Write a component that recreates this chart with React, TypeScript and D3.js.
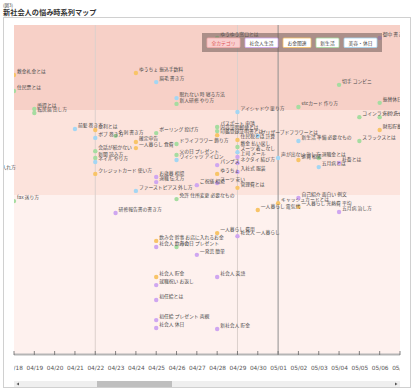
import React, { useRef, useEffect } from "react";
import * as d3 from "d3";

// [date, score, keyword]
type Pt = [string, number, string];

const shakaijin: Pt[] = [
  ["2018-04-23", 44.7, "研修報告書の書き方"],
  ["2018-04-27", 52.9, "ご祝儀 相場"],
  ["2018-04-28", 53.5, "スーツ 安い"],
  ["2018-04-28", 58.8, "パンプス"],
  ["2018-05-04", 59.4, "社畜とは"],
  ["2018-05-02", 49.1, "自己紹介 面白い 例文"],
  ["2018-05-04", 45.0, "五月病 治し方"],
  ["2018-04-29", 61.2, "上司 メール"],
  ["2018-04-29", 59.4, "ネクタイ 結び方"],
  ["2018-04-29", 56.8, "入社式 服装"],
  ["2018-04-25", 55.3, "お歳暮 相場"],
  ["2018-04-25", 53.8, "退職 伝え方"],
  ["2018-04-27", 32.4, "一発芸 簡単"],
  ["2018-04-25", 34.7, "社会人 飲み会"],
  ["2018-04-29", 37.9, "社会人 一人暮らし"],
  ["2018-04-28", 25.9, "社会人 英語"],
  ["2018-04-25", 23.5, "就職祝い お返し"],
  ["2018-04-25", 19.1, "初任給とは"],
  ["2018-04-25", 13.2, "初任給 プレゼント 両親"],
  ["2018-04-25", 10.9, "社会人 休日"],
  ["2018-04-28", 10.6, "新社会人 貯金"],
  ["2018-05-06", 96.2, "御中 書き方"],
];

const okane: Pt[] = [
  ["2018-04-18", 85.3, "敷金礼金とは"],
  ["2018-04-24", 85.9, "ゆうちょ 振込手数料"],
  ["2018-04-22", 69.1, "金利とは"],
  ["2018-04-24", 65.6, "確定申告"],
  ["2018-04-24", 63.8, "一人暮らし 食費"],
  ["2018-04-22", 56.2, "クレジットカード 使い方"],
  ["2018-04-28", 67.6, "印鑑登録証明書とは"],
  ["2018-04-29", 66.2, "住民税とは 計算"],
  ["2018-04-28", 56.2, "ゆうちょ"],
  ["2018-04-29", 52.1, "管理費とは"],
  ["2018-05-06", 69.1, "財形貯蓄"],
  ["2018-05-02", 60.3, "家賃 相場"],
  ["2018-05-01", 47.6, "キャッシュカードとは"],
  ["2018-04-30", 45.6, "一人暮らし 電気代"],
  ["2018-05-02", 46.5, "一人暮らし 光熱費 平均"],
  ["2018-04-25", 36.5, "飲み会 幹事 お店に入れるお金"],
  ["2018-04-28", 38.8, "一人暮らし 費用"],
  ["2018-04-25", 25.9, "社会人 貯金"],
];

const shinseikatsu: Pt[] = [
  ["2018-04-18", 80.6, "住民票とは"],
  ["2018-04-19", 75.3, "所得とは"],
  ["2018-04-19", 74.1, "転居届 出し方"],
  ["2018-04-23", 67.4, "名刺 書き方"],
  ["2018-04-22", 62.9, "会話が続かない"],
  ["2018-04-25", 68.2, "ボーリング 投げ方"],
  ["2018-04-26", 65.0, "ドライフラワー 飾り方"],
  ["2018-04-26", 76.8, "新人研修 やり方"],
  ["2018-04-28", 70.0, "パスポート 申請"],
  ["2018-04-28", 68.8, "内容証明郵便とは"],
  ["2018-04-29", 64.1, "敷金 払い戻し"],
  ["2018-05-04", 82.4, "切手 コンビニ"],
  ["2018-05-02", 75.9, "etcカード 作り方"],
  ["2018-05-06", 77.1, "振替休日"],
  ["2018-05-05", 72.9, "コインランドリー"],
  ["2018-05-06", 72.9, "布団 洗い方"],
  ["2018-05-05", 65.9, "スラックスとは"],
  ["2018-05-03", 60.9, "退職金とは"],
  ["2018-04-26", 48.8, "免許 住所変更 必要なもの"],
  ["2018-04-18", 48.2, "fax 送り方"],
  ["2018-04-26", 34.7, "母の日 プレゼント"],
  ["2018-04-28", 96.2, "ゆうゆう窓口とは"],
  ["2018-04-26", 61.8, "父の日 プレゼント"],
  ["2018-04-22", 60.9, "新聞 読み方"],
];

const biyou: Pt[] = [
  ["2018-04-25", 83.2, "眉毛 書き方"],
  ["2018-04-26", 78.5, "眠れない 時 寝る方法"],
  ["2018-04-29", 74.4, "アイシャドウ 塗り方"],
  ["2018-04-21", 69.4, "前髪 巻き方"],
  ["2018-04-22", 66.8, "ボブ 巻き方"],
  ["2018-04-24", 51.2, "ファーストピアス 外し方"],
  ["2018-04-22", 59.7, "ネイル やり方"],
  ["2018-04-29", 62.6, "スーツ 着こなし"],
  ["2018-04-30", 67.4, "プリザーブドフラワーとは"],
  ["2018-05-02", 65.9, "新生活 準備 必要なもの"],
  ["2018-05-01", 60.9, "声が出ない 治し方"],
  ["2018-05-03", 58.2, "五月病とは"],
  ["2018-04-16", 57.1, "コンタクト 入れ方"],
  ["2018-04-26", 60.3, "ワイシャツ アイロン"],
];

const categories = ["全カテゴリ", "社会人生活", "お金関連", "新生活", "美容・休日"];
const catColors = ["#f4a9a9", "#cfa6f0", "#f8c468", "#a6dca0", "#a3d6f3"];
const bandBreaks = [0, 50, 75, 100];
const bandColors = ["#fef1ee", "#fce3dc", "#f7d0c7"];
const markerDates = ["2018-04-22", "2018-04-29", "2018-05-01"];
const markerColors = ["#dcd0cc", "#dcd0cc", "#8f8f8f"];

const font = "'Noto Sans CJK JP', 'Noto Sans', sans-serif";

const App = () => {
  const svgRef = useRef<SVGSVGElement>(null);

  useEffect(() => {
    const svg = d3.select(svgRef.current);
    svg.selectAll("*").remove();

    const plot = { left: 14, right: 400, top: 25, bottom: 354 };
    const parse = d3.timeParse("%Y-%m-%d");

    const x = d3
      .scaleTime()
      .domain([new Date(2018, 3, 18), new Date(2018, 4, 7)])
      .range([plot.left, plot.right]);
    const y = d3.scaleLinear().domain([0, 100]).range([365, 25]);

    // title
    svg.append("text").attr("x", 3).attr("y", 7).attr("font-size", 4.5)
      .attr("fill", "#444").attr("font-family", font).text("(図3)");
    svg.append("text").attr("x", 3).attr("y", 15).attr("font-size", 7.2)
      .attr("font-weight", "bold").attr("fill", "#333").attr("font-family", font)
      .text("新社会人の悩み時系列マップ");

    // frame
    svg.append("rect").attr("x", 3.5).attr("y", 17.5).attr("width", 407).attr("height", 370)
      .attr("fill", "#fff").attr("stroke", "#d0d0d0");

    const defs = svg.append("defs");
    defs.append("clipPath").attr("id", "plotClip").append("rect")
      .attr("x", plot.left).attr("y", plot.top)
      .attr("width", plot.right - plot.left).attr("height", plot.bottom - plot.top);
    defs.append("clipPath").attr("id", "labelClip").append("rect")
      .attr("x", 4).attr("y", plot.top)
      .attr("width", plot.right - 4).attr("height", plot.bottom - plot.top);
    defs.append("clipPath").attr("id", "tickClip").append("rect")
      .attr("x", plot.left).attr("y", plot.bottom)
      .attr("width", plot.right - plot.left).attr("height", 25);

    // background bands
    const bands = d3.range(bandColors.length).map((i) => ({
      lo: bandBreaks[i], hi: bandBreaks[i + 1], color: bandColors[i],
    }));
    svg.append("g").attr("clip-path", "url(#plotClip)")
      .selectAll("rect").data(bands).enter().append("rect")
      .attr("x", plot.left).attr("width", plot.right - plot.left)
      .attr("y", (d) => y(d.hi)).attr("height", (d) => y(d.lo) - y(d.hi))
      .attr("fill", (d) => d.color);

    // marker lines
    svg.append("g").selectAll("line").data(markerDates).enter().append("line")
      .attr("x1", (d) => x(parse(d)!)).attr("x2", (d) => x(parse(d)!))
      .attr("y1", plot.top).attr("y2", plot.bottom)
      .attr("stroke", (d, i) => markerColors[i]).attr("stroke-width", 1);

    // points
    const all = [shakaijin, okane, shinseikatsu, biyou].flatMap((arr, ci) =>
      arr.map(([d, v, label]) => ({ date: parse(d)!, v, label, color: catColors[ci + 1] }))
    );

    svg.append("g").attr("clip-path", "url(#plotClip)")
      .selectAll("circle").data(all).enter().append("circle")
      .attr("cx", (d) => x(d.date)).attr("cy", (d) => y(d.v)).attr("r", 2.2)
      .attr("fill", (d) => d.color);

    svg.append("g").attr("clip-path", "url(#labelClip)")
      .selectAll("text").data(all).enter().append("text")
      .attr("x", (d) => x(d.date) + 3).attr("y", (d) => y(d.v) - 1.8)
      .attr("font-size", 4.8).attr("fill", "#4a4a4a").attr("font-family", font)
      .text((d) => d.label);

    // x axis
    svg.append("line").attr("x1", plot.left).attr("x2", plot.right)
      .attr("y1", plot.bottom + 0.5).attr("y2", plot.bottom + 0.5)
      .attr("stroke", "#b5b5b5").attr("stroke-width", 2);

    const xAxis = d3.axisBottom(x).ticks(d3.timeDay.every(1))
      .tickFormat((d) => d3.timeFormat("%m/%d")(d as Date)).tickSize(0).tickPadding(12);
    const ax = svg.append("g").attr("clip-path", "url(#tickClip)")
      .append("g").attr("transform", `translate(0,${plot.bottom})`).call(xAxis);
    ax.select(".domain").remove();
    ax.selectAll("text").attr("font-size", 5.8).attr("fill", "#555")
      .attr("font-family", "'DejaVu Sans', sans-serif");
    svg.append("g").selectAll("line").data(x.ticks(d3.timeDay.every(1)!)).enter().append("line")
      .attr("x1", (d) => x(d)).attr("x2", (d) => x(d))
      .attr("y1", plot.bottom - 3).attr("y2", plot.bottom + 1)
      .attr("stroke", "#666").attr("stroke-width", 0.8);

    // scrollbar
    svg.append("rect").attr("x", plot.left).attr("y", 381).attr("width", plot.right - plot.left)
      .attr("height", 6).attr("fill", "#efefef");
    svg.append("rect").attr("x", 97).attr("y", 381).attr("width", 75)
      .attr("height", 6).attr("fill", "#bfbfbf");
    svg.append("path").attr("d", "M16.5,384 L19,382.5 L19,385.5 Z").attr("fill", "#555");
    svg.append("path").attr("d", "M397.5,384 L395,382.5 L395,385.5 Z").attr("fill", "#555");

    // legend
    const lg = svg.append("g");
    lg.append("rect").attr("x", 202).attr("y", 33).attr("width", 180).attr("height", 19)
      .attr("fill", "#6e5a55").attr("opacity", 0.55);
    let bx = 207;
    categories.forEach((c, i) => {
      const w = c.length * 5 + 8;
      lg.append("rect").attr("x", bx).attr("y", 38).attr("width", w).attr("height", 9.5)
        .attr("rx", 1).attr("fill", i === 0 ? "#f9cfcf" : "#fff")
        .attr("stroke", catColors[i]).attr("stroke-width", 0.8);
      lg.append("text").attr("x", bx + w / 2).attr("y", 44.6).attr("text-anchor", "middle")
        .attr("font-size", 4.8).attr("font-family", font)
        .attr("fill", i === 0 ? "#e05555" : "#444").text(c);
      bx += w + 5;
    });
  }, []);

  return (
    <svg
      ref={svgRef}
      width={414}
      height={390}
      style={{ position: "absolute", left: 0, top: 0, background: "#fff" }}
    />
  );
};

export default App;
